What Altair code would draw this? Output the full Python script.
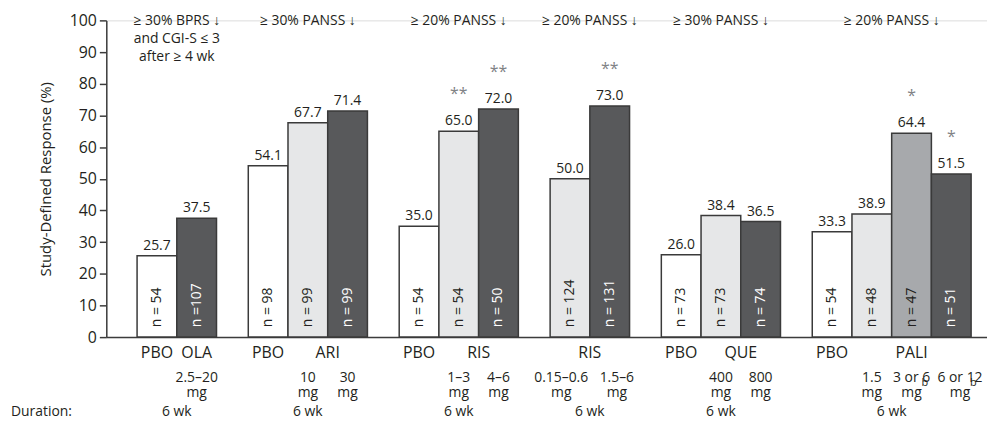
import altair as alt
import pandas as pd

# ---- data ----
groups = [0, 0, 1, 1, 1, 2, 2, 2, 3, 3, 4, 4, 4, 5, 5, 5, 5]
arms = ["PBO", "OLA", "PBO", "ARI10", "ARI30", "PBO", "RIS1-3", "RIS4-6",
        "RIS0.15-0.6", "RIS1.5-6", "PBO", "QUE400", "QUE800",
        "PBO", "PALI1.5", "PALI3-6", "PALI6-12"]
values = [25.7, 37.5, 54.1, 67.7, 71.4, 35.0, 65.0, 72.0, 50.0, 73.0,
          26.0, 38.4, 36.5, 33.3, 38.9, 64.4, 51.5]
n_labels = ["n = 54", "n =107", "n = 98", "n = 99", "n = 99", "n = 54", "n = 54", "n = 50",
            "n = 124", "n = 131", "n = 73", "n = 73", "n = 74",
            "n = 54", "n = 48", "n = 47", "n = 51"]
shades = ["white", "dark", "white", "light", "dark", "white", "light", "dark",
          "light", "dark", "white", "light", "dark", "white", "light", "medium", "dark"]
stars = ["", "", "", "", "", "", "**", "**", "", "**", "", "", "", "", "", "*", "*"]
doses = ["", "2.5–20\nmg", "", "10\nmg", "30\nmg", "", "1–3\nmg", "4–6\nmg",
         "0.15–0.6\nmg", "1.5–6\nmg", "", "400\nmg", "800\nmg",
         "", "1.5\nmg", "3 or 6\nmg", "6 or 12\nmg"]
footnotes = ["", "", "", "", "", "", "", "", "", "", "", "", "", "", "", "b", "b"]
criteria = ["≥ 30% BPRS ↓\nand CGI-S ≤ 3\nafter ≥ 4 wk", "≥ 30% PANSS ↓", "≥ 20% PANSS ↓",
            "≥ 20% PANSS ↓", "≥ 30% PANSS ↓", "≥ 20% PANSS ↓"]
drugs = ["OLA", "ARI", "RIS", "RIS", "QUE", "PALI"]
durations = ["6 wk", "6 wk", "6 wk", "6 wk", "6 wk", "6 wk"]
y_ticks = [0, 10, 20, 30, 40, 50, 60, 70, 80, 90, 100]

# ---- styling ----
fills = {"white": "#ffffff", "light": "#e6e7e8", "medium": "#a7a9ac", "dark": "#58595b"}
ink = "#231f20"
FONT = "Open Sans"
GAP = 0.8  # gap between study groups, in bar widths
# horizontal nudges of crowded dose labels (in bar widths)
dose_nudge = {"RIS0.15-0.6": -0.22, "RIS1.5-6": 0.18, "PALI3-6": 0.0, "PALI6-12": 0.22}

rows = []
for i, (g, a, v, nl, sh, st, d, fn) in enumerate(
        zip(groups, arms, values, n_labels, shades, stars, doses, footnotes)):
    x0 = i + g * GAP
    rows.append(dict(group=g, arm=a, value=v, nlab=nl, fill=fills[sh],
                     ncolor="#ffffff" if sh == "dark" else ink,
                     stars=st, dose=d, fn=fn, x0=x0, x1=x0 + 1, xc=x0 + 0.5,
                     xd=x0 + 0.5 + dose_nudge.get(a, 0.0),
                     pbo="PBO" if a == "PBO" else ""))
bars = pd.DataFrame(rows)

grp_rows = []
for g in range(len(criteria)):
    sub = bars[bars.group == g]
    drug = sub[sub.arm != "PBO"]
    grp_rows.append(dict(group=g, crit=criteria[g], drug=drugs[g], dur=durations[g],
                         gc=(sub.x0.min() + sub.x1.max()) / 2,
                         dc=(drug.x0.min() + drug.x1.max()) / 2))
grp = pd.DataFrame(grp_rows)

xscale = alt.Scale(domain=[-0.775, 21.4], nice=False, zero=False)
yscale = alt.Scale(domain=[0, 100], nice=False)
xaxis = alt.Axis(labels=False, ticks=False, title=None, grid=False,
                 domainColor="#3c3c3c", domainWidth=1.5)
yaxis = alt.Axis(values=y_ticks, tickCount=11, tickSize=7, labelPadding=3,
                 labelOverlap=False, labelFontSize=16, labelFont=FONT, labelColor=ink,
                 tickColor="#3c3c3c", tickWidth=1.5,
                 domainColor="#3c3c3c", domainWidth=1.5, grid=False,
                 title="Study-Defined Response (%)", titleFont=FONT,
                 titleFontSize=15, titleFontWeight="normal", titleColor=ink,
                 titlePadding=16)


def X(f):
    return alt.X(f, scale=xscale, axis=xaxis)


def Yv():
    return alt.Y("value:Q", scale=yscale, axis=yaxis)


def Yd(v):
    return alt.YDatum(v, scale=yscale, axis=yaxis)


base = alt.Chart(bars)

bar = base.mark_bar(stroke="#3a3a3a", strokeWidth=1.5).encode(
    x=X("x0:Q"), x2="x1:Q",
    y=Yv(), y2=alt.datum(0),
    fill=alt.Fill("fill:N", scale=None),
)

vals = base.mark_text(font=FONT, fontSize=14, color=ink, baseline="middle", dy=-10).encode(
    x=X("xc:Q"), y=Yv(), text=alt.Text("value:Q", format=".1f"))

star = base.mark_text(font=FONT, fontSize=16, color="#808285", baseline="middle", dy=-37).encode(
    x=X("xc:Q"), y=Yv(), text="stars:N")

nlab = base.mark_text(font=FONT, fontSize=14, angle=270, align="left", baseline="middle", dx=10).encode(
    x=X("xc:Q"), y=Yd(0), text="nlab:N", color=alt.Color("ncolor:N", scale=None))

pbo = base.mark_text(font=FONT, fontSize=16, color=ink, baseline="middle", dy=16).encode(
    x=X("xc:Q"), y=Yd(0), text="pbo:N")

dose = base.mark_text(font=FONT, fontSize=14, color=ink, baseline="top", lineBreak="\n",
                      lineHeight=15, dy=34).encode(
    x=X("xd:Q"), y=Yd(0), text="dose:N")

foot = base.mark_text(font=FONT, fontSize=11, color=ink, baseline="top", align="left",
                      dx=10, dy=40).encode(
    x=X("xd:Q"), y=Yd(0), text="fn:N")

g = alt.Chart(grp)
drug = g.mark_text(font=FONT, fontSize=16, color=ink, baseline="middle", dy=16).encode(
    x=X("dc:Q"), y=Yd(0), text="drug:N")

crit = g.mark_text(font=FONT, fontSize=14, color=ink, baseline="top", lineBreak="\n",
                   lineHeight=18, dy=-6).encode(
    x=X("gc:Q"), y=Yd(100), text="crit:N")

dur = g.mark_text(font=FONT, fontSize=14, color=ink, baseline="middle", dy=75).encode(
    x=X("gc:Q"), y=Yd(0), text="dur:N")

durlab = g.transform_filter("datum.group == 0").mark_text(
    font=FONT, fontSize=14, color=ink, align="left", baseline="middle", dy=75).encode(
    x=alt.value(-96), y=Yd(0), text=alt.value("Duration:"))

chart = alt.layer(bar, vals, star, nlab, pbo, dose, foot, drug, crit, dur, durlab).properties(
    width=887, height=319,
    autosize=alt.AutoSizeParams(type="none"),
    padding={"left": 99, "top": 11, "right": 0, "bottom": 81},
).configure_view(stroke=None).configure(background="white")

chart.save("out.html", embed_options={"renderer": "svg", "actions": False})
